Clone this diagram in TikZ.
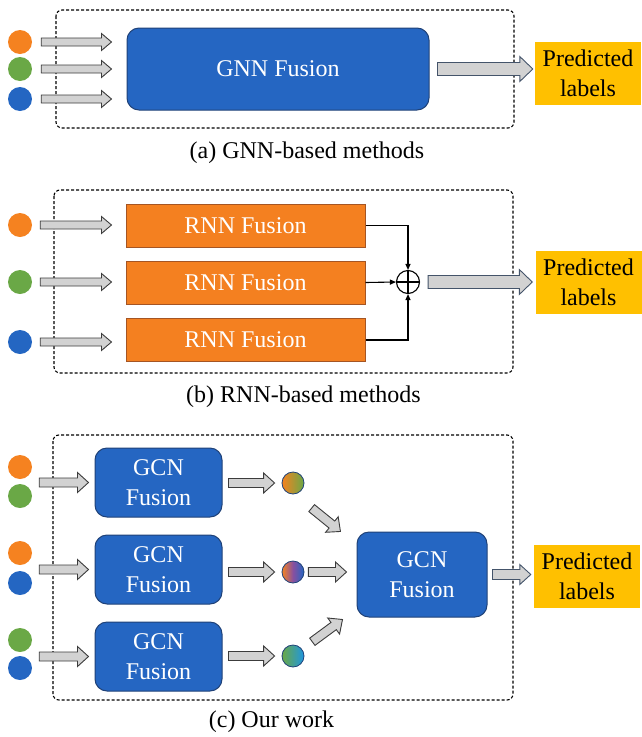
\documentclass[tikz,border=0pt]{standalone}
\usepackage{fontspec}
\setmainfont{Liberation Serif}
\usetikzlibrary{calc, positioning, arrows.meta}

\definecolor{dotorange}{RGB}{245,130,32}
\definecolor{dotgreen}{RGB}{106,168,70}
\definecolor{dotblue}{RGB}{36,102,194}
\definecolor{fuseblue}{RGB}{37,102,194}
\definecolor{fuseedge}{RGB}{32,66,120}
\definecolor{rnnorange}{RGB}{244,128,32}
\definecolor{rnnedge}{RGB}{165,85,35}
\definecolor{labelgold}{RGB}{255,192,0}
\definecolor{arrowfill}{RGB}{210,210,210}
\definecolor{arrowedge}{RGB}{60,60,60}
\definecolor{outedge}{RGB}{68,84,106}
\definecolor{mixpurple}{RGB}{135,80,160}
\definecolor{mixcyan}{RGB}{30,150,225}

\newcommand{\figfont}{\fontsize{24}{30}\selectfont}

\tikzset{
  % block arrow: gap at start, gap at end, half shaft, half head, head length
  fat/.style n args={5}{to path={
    let \p1=(\tikztostart), \p2=(\tikztotarget),
        \n1={atan2(\y2-\y1,\x2-\x1)},
        \n2={veclen(\x2-\x1,\y2-\y1)-#1-#2}
    in (\p1) ++({\n1}:{#1}) ++({\n1+90}:{#3})
       -- ++({\n1}:{\n2-#5})
       -- ++({\n1+90}:{#4-#3})
       -- ++({\n1-atan2(#4,#5)}:{veclen(#5,#4)})
       -- ++({\n1+180+atan2(#4,#5)}:{veclen(#5,#4)})
       -- ++({\n1+90}:{#4-#3})
       -- ++({\n1+180}:{\n2-#5})
       -- cycle}},
  inarr/.style 2 args={draw=arrowedge, fill=arrowfill, line width=0.9pt, fat={#1}{#2}{4pt}{8.5pt}{10pt}},
  midarr/.style 2 args={draw=arrowedge, fill=arrowfill, line width=0.9pt, fat={#1}{#2}{4.5pt}{10pt}{11pt}},
  outarr/.style 2 args={draw=outedge, fill=arrowfill, line width=0.9pt, fat={#1}{#2}{6.5pt}{12.5pt}{13pt}},
  smallout/.style 2 args={draw=outedge, fill=arrowfill, line width=0.9pt, fat={#1}{#2}{5pt}{10pt}{11pt}},
  dot/.style={circle, fill=#1, minimum size=24pt, inner sep=0pt},
  gdot/.style={circle, draw=fuseedge, line width=0.8pt, minimum size=22pt, inner sep=0pt},
  fuse/.style={rounded corners=12pt, fill=fuseblue, draw=fuseedge, line width=1pt,
    text=white, font=\figfont, align=center, inner sep=0pt},
  rnn/.style={fill=rnnorange, draw=rnnedge, line width=1pt, text=white, font=\figfont,
    minimum width=239pt, minimum height=43pt, inner sep=0pt},
  pred/.style={fill=labelgold, text=black, font=\figfont, align=center, inner sep=0pt,
    minimum width=106pt, minimum height=63pt},
  frame/.style={draw, dash pattern=on 3pt off 2pt, line width=1.1pt, rounded corners=6pt},
  captext/.style={font=\figfont, anchor=base},
  sumarr/.style={-{Triangle[length=6pt, width=5pt]}, line width=1.1pt},
}

\begin{document}
\begin{tikzpicture}[x=1pt, y=1pt]
\useasboundingbox (0,0) rectangle (641,-737);

% (a) GNN-based methods
\draw[frame] (56,-10) rectangle (514,-128);
\node[dot=dotorange] (a1) at (20,-42) {};
\node[dot=dotgreen] (a2) at (20,-69) {};
\node[dot=dotblue] (a3) at (20,-99) {};
\node[fuse, minimum width=302pt, minimum height=82pt] (gnn) at (278,-69) {GNN Fusion};
\node[pred] (pa) at (588,-73) {Predicted\\labels};
\foreach \i in {1,2,3}
  \draw[inarr={9pt}{15pt}] (a\i.east) to (gnn.west |- a\i.east);
\draw[outarr={8pt}{2pt}] (gnn.east) to (pa.west |- gnn.east);
\node[captext] (capa) at (307,-158) {(a) GNN-based methods};

% (b) RNN-based methods
\draw[frame] (54,-190) rectangle (513,-373);
\node[dot=dotorange] (b1) at (20,-225) {};
\node[dot=dotgreen] (b2) at (20,-282) {};
\node[dot=dotblue] (b3) at (20,-342) {};
\node[rnn] (r1) at (245.5,-225.5) {RNN Fusion};
\node[rnn] (r2) at (245.5,-282.5) {RNN Fusion};
\node[rnn] (r3) at (245.5,-340) {RNN Fusion};
\node[circle, draw, line width=1.1pt, minimum size=23pt, inner sep=0pt] (sum) at (408,-282) {};
\draw[line width=1.1pt] (sum.north) -- (sum.south) (sum.west) -- (sum.east);
\node[pred] (pb) at (588.5,-282.5) {Predicted\\labels};
\foreach \i in {1,2,3}
  \draw[inarr={8pt}{14pt}] (b\i.east) to (r\i.west |- b\i.east);
\draw[sumarr] (r1.east) -| (sum.north);
\draw[sumarr] (r2.east) -- (sum.west);
\draw[sumarr] (r3.east) -| (sum.south);
\draw[outarr={8pt}{3pt}] (sum.east) to (pb.west |- sum.east);
\node[captext] (capb) at (303.5,-402) {(b) RNN-based methods};

% (c) Our work
\draw[frame] (53,-435) rectangle (513,-700);
\node[dot=dotorange] (c1) at (20,-467) {};
\node[dot=dotgreen] (c2) at (20,-496) {};
\node[dot=dotorange] (c3) at (20,-553) {};
\node[dot=dotblue] (c4) at (20,-583) {};
\node[dot=dotgreen] (c5) at (20,-640) {};
\node[dot=dotblue] (c6) at (20,-668) {};
\node[fuse, minimum width=127pt, minimum height=69pt] (g1) at (158.5,-482.5) {GCN\\Fusion};
\node[fuse, minimum width=127pt, minimum height=69pt] (g2) at (158.5,-569.5) {GCN\\Fusion};
\node[fuse, minimum width=127pt, minimum height=69pt] (g3) at (158.5,-656.5) {GCN\\Fusion};
\draw[midarr={7pt}{6pt}] (c1.east |- g1.west) to (g1.west);
\draw[midarr={7pt}{6pt}] (c3.east |- g2.west) to (g2.west);
\draw[midarr={7pt}{6pt}] (c5.east |- g3.west) to (g3.west);

\node[gdot, left color=dotorange, right color=dotgreen] (m1) at (293,-483) {};
\node[gdot, left color=dotorange, right color=dotblue, middle color=mixpurple] (m2) at (293,-572) {};
\node[gdot, left color=dotgreen, right color=mixcyan] (m3) at (293,-656) {};
\foreach \i in {1,2,3}
  \draw[midarr={6pt}{7pt}] (g\i.east |- m\i.west) to (m\i.west);

\node[fuse, minimum width=130pt, minimum height=85pt] (gf) at (422,-574.5) {GCN\\Fusion};
\node[pred] (pc) at (587,-576.5) {Predicted\\labels};
\draw[midarr={24pt}{0pt}] ([yshift=-10pt]m1.center) to ([xshift=-16pt]gf.north west);
\draw[midarr={4pt}{10pt}] (m2.east) to (gf.west |- m2.east);
\draw[midarr={24pt}{0pt}] (m3.center) to ([xshift=-14pt, yshift=-2pt]gf.south west);
\draw[smallout={5pt}{3pt}] (gf.east) to (pc.west |- gf.east);
\node[captext] (capc) at (271.5,-727) {(c) Our work};

\end{tikzpicture}
\end{document}
